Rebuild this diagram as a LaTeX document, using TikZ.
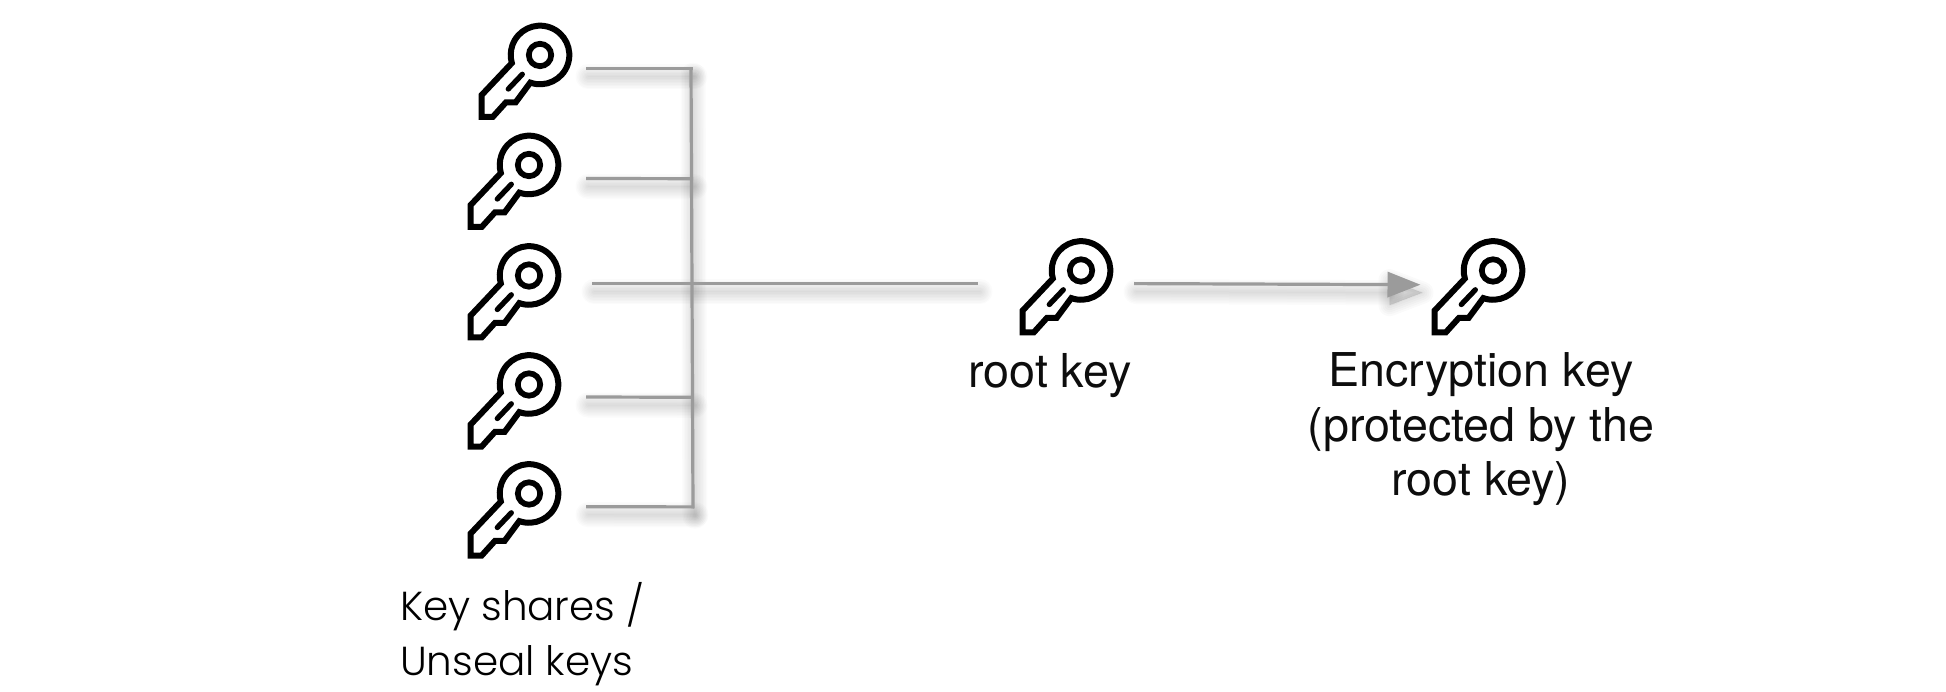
\documentclass[tikz,border=0pt]{standalone}
\usepackage{fontspec}
\setmainfont{TeX Gyre Heros}
\newfontfamily\sharefont{Poppins Light}
\usetikzlibrary{arrows.meta,calc}
\definecolor{connGray}{HTML}{9B9B9B}
\tikzset{
  keyicon/.pic={
    \draw[line width=6pt,black,line join=miter,miter limit=10]
      (-9.7,27.6) arc[start angle=250.6,end angle=556,radius=29.3pt]
      -- (-58.3,40) -- (-58.3,62) -- (-47.3,62) -- (-34,47.3) -- (-24.3,47.3) -- cycle;
    \draw[line width=5.7pt,black] (0,0) circle[radius=11.2pt];
    \draw[line width=5.3pt,black,line cap=round] (-31.7,34) -- (-17.7,19.3);
  },
  keybox/.style={inner sep=0pt,outer sep=0pt,minimum width=92pt,minimum height=95pt},
  conn/.style={line width=3.2pt,connGray},
  soft/.style={black,opacity=0.015,line cap=round},
  helv/.style={inner sep=0pt,outer sep=0pt,align=center,font=\fontsize{46.6}{54.5}\selectfont,text=black!95},
  sharelabel/.style={inner sep=0pt,outer sep=0pt,align=left,font=\sharefont\fontsize{40.5}{54.8}\selectfont,text=black},
}
\newcommand{\softline}[1]{%
  \begin{scope}[transform canvas={xshift=2pt,yshift=-8pt}]
  \foreach \w in {1,4,...,25}{\draw[soft,line width=\w pt] #1;}
  \end{scope}}
\begin{document}
\begin{tikzpicture}[x=1pt,y=-1pt]
\useasboundingbox (0,0) rectangle (1946,692);
\fill[white] (0,0) rectangle (1946,692);

\node[keybox] (k1) at (526,68.7) {};
\node[keybox] (k2) at (515,178.5) {};
\node[keybox] (k3) at (515,283.6) {};
\node[keybox] (k4) at (515,397) {};
\node[keybox] (k5) at (515,506.7) {};
\node[keybox] (root) at (1067,283.6) {};
\node[keybox] (enc) at (1479,284.7) {};

\coordinate (j1) at (693,68.7);
\coordinate (j2) at (693,178.7);
\coordinate (j4) at (693,397.3);
\coordinate (j5) at (694,506.9);
\coordinate (bt) at (691,67.2);
\coordinate (bb) at (693,508.3);

\coordinate (a1) at ([xshift=14pt]k1.east);
\coordinate (a2) at ([xshift=25pt]k2.east);
\coordinate (a3) at ([xshift=31pt]k3.east);
\coordinate (a4) at ([xshift=25pt]k4.east);
\coordinate (a5) at ([xshift=25pt]k5.east);
\coordinate (r1) at ([xshift=-43pt]root.west);
\coordinate (r2) at ([xshift=21pt]root.east);
\coordinate (tip) at ([xshift=-12.5pt]enc.west);
\coordinate (neck) at ($(tip)+(-31,0)$);

\softline{(a1) -- (j1)}
\softline{(a2) -- (j2)}
\softline{(a3) -- (r1)}
\softline{(a4) -- (j4)}
\softline{(a5) -- (j5)}
\softline{(bt) -- (bb)}
\softline{(r2) -- (neck)}
\begin{scope}[transform canvas={xshift=2pt,yshift=-8pt}]
\foreach \w in {2,6,...,22}{\fill[black,opacity=0.018,draw=black,line join=round,line width=\w pt]
   (tip) -- ($(tip)+(-33,-12.5)$) -- ($(tip)+(-33,12.5)$) -- cycle;}
\end{scope}

\draw[conn] (a1) -- (j1);
\draw[conn] (a2) -- (j2);
\draw[conn] (a3) -- (r1);
\draw[conn] (a4) -- (j4);
\draw[conn] (a5) -- (j5);
\draw[conn] (bt) -- (bb);
\draw[conn,-{Triangle[length=33pt,width=25pt,fill=connGray]}] (r2) -- (tip);

\pic at (540,55) {keyicon};
\pic at (529,165) {keyicon};
\pic at (529,275.5) {keyicon};
\pic at (529,384.5) {keyicon};
\pic at (529,493.5) {keyicon};
\pic at (1081,270.5) {keyicon};
\pic at (1493,270.5) {keyicon};

\node[sharelabel,anchor=north west] (sharesl) at (400,582.5) {Key shares /\\Unseal keys};
\node[helv,anchor=base,font=\fontsize{46.7}{54.5}\selectfont] (rootl) at (1050,388) {root key};
\node[helv,anchor=center] (encl) at (1481,429.5) {Encryption key\\(protected by the\\root key)};
\end{tikzpicture}
\end{document}
